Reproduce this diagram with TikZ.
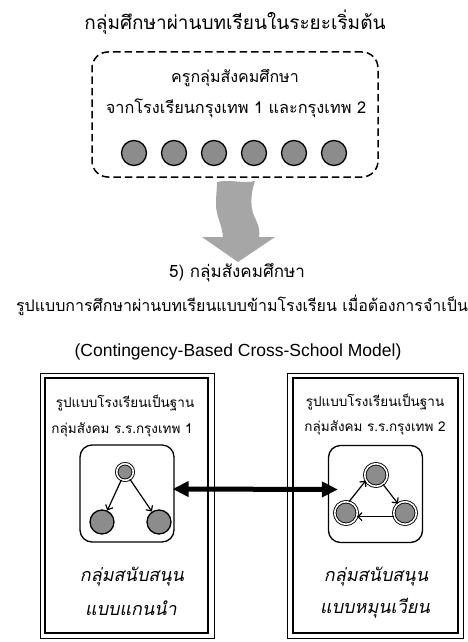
\documentclass[tikz,border=0pt]{standalone}
\usepackage{fontspec}
\setmainfont{Liberation Sans}
\newfontfamily\thai[Script=Thai]{Loma}
\newfontfamily\thaiit[Script=Thai,FakeSlant=0.2]{Loma}
\usetikzlibrary{arrows.meta}
\definecolor{nodegray}{HTML}{8C8C8C}
\definecolor{arrowgray}{HTML}{A6A6A6}
\begin{document}
\begin{tikzpicture}[x=1pt,y=-1pt,
  txt/.style={inner sep=0pt, font=\thai\fontsize{#1}{#1}\selectfont},
  ittxt/.style={inner sep=0pt, font=\thaiit\fontsize{#1}{#1}\selectfont},
  pnode/.style={circle, draw=black, line width=1.3pt, fill=nodegray, minimum size=#1, inner sep=0pt},
  dnode/.style={circle, draw=black, line width=0.9pt, double=white, double distance=1.6pt, fill=nodegray, minimum size=#1, inner sep=0pt},
  thinarrow/.style={line width=1.2pt, -{Straight Barb[length=4pt,width=8pt]}},
  innerbox/.style={draw=black, line width=1.3pt, rounded corners=12pt, minimum width=94pt, minimum height=97pt, inner sep=0pt},
  ]
\useasboundingbox (0,0) rectangle (468,642);

% title
\node[txt=19] (title) at (235,22) {กลุ่มศึกษาผ่านบทเรียนในระยะเริ่มต้น};

% dashed group
\node[draw=black, line width=1.5pt, dash pattern=on 7.5pt off 4pt, rounded corners=16pt,
      minimum width=286pt, minimum height=125pt, inner sep=0pt] (group) at (235,114.5) {};
\node[txt=16] (g1) at (235,78) {ครูกลุ่มสังคมศึกษา};
\node[txt=16.3] (g2) at (236,108) {จากโรงเรียนกรุงเทพ 1 และกรุงเทพ 2};
\foreach \i in {0,...,5}{
  \node[pnode=25pt] (c\i) at (134+40*\i,153) {};
}

% big wavy arrow
\fill[arrowgray] (217,182) .. controls (230,179) and (243,184) .. (255,181)
  .. controls (250,195) and (250,210) .. (256,220)
  .. controls (259,226) and (260,232) .. (259,237)
  -- (275,237) -- (238,262) -- (202,237) -- (223,237)
  .. controls (222,225) and (216,215) .. (216,205)
  .. controls (216,195) and (217,188) .. (217,182) -- cycle;

% model text
\node[txt=17] (m1) at (237,273) {5) กลุ่มสังคมศึกษา};
\node[txt=16] (m2) at (242,305) {รูปแบบการศึกษาผ่านบทเรียนแบบข้ามโรงเรียน เมื่อต้องการจำเป็น};
\node[inner sep=0pt, font=\fontsize{17.5}{17.5}\selectfont] (m3) at (238,352) {(Contingency-Based Cross-School Model)};

% panels
\draw[line width=1pt] (40,373) rectangle (214,638);
\draw[line width=2.2pt] (45,378) rectangle (208,633);
\draw[line width=1pt] (287,373) rectangle (463,638);
\draw[line width=2.2pt] (293,378) rectangle (458,633);

\node[txt=13.5] (p1a) at (125,403) {รูปแบบโรงเรียนเป็นฐาน};
\node[txt=13.5] (p1b) at (122,430) {กลุ่มสังคม ร.ร.กรุงเทพ 1};
\node[txt=13.5] (p2a) at (375,402) {รูปแบบโรงเรียนเป็นฐาน};
\node[txt=13.5] (p2b) at (375,428) {กลุ่มสังคม ร.ร.กรุงเทพ 2};

\node[innerbox] (box1) at (127,493.5) {};
\node[innerbox] (box2) at (375.5,494) {};

% left cluster
\node[dnode=16.6pt] (t1) at (125,472) {};
\node[pnode=24pt] (bl1) at (102,522) {};
\node[pnode=24pt] (br1) at (159,522) {};
\draw[thinarrow] (t1) -- (bl1);
\draw[thinarrow] (t1) -- (br1);

% right cluster
\node[dnode=22.6pt] (t2) at (376,475) {};
\node[dnode=22.6pt] (bl2) at (346,513) {};
\node[dnode=22.6pt] (br2) at (405,513) {};
\draw[thinarrow] (bl2.75) -- (t2.209);
\draw[thinarrow] (t2.307) -- (br2.127);
\draw[thinarrow] (br2.198) -- (bl2.342);

\node[ittxt=18] (s1a) at (132,577) {กลุ่มสนับสนุน};
\node[ittxt=18] (s1b) at (131,608) {แบบแกนนำ};
\node[ittxt=18] (s2a) at (376,577) {กลุ่มสนับสนุน};
\node[ittxt=18] (s2b) at (375,608) {แบบหมุนเวียน};

% double arrow between clusters
\draw[line width=5pt, {Triangle[length=16pt,width=15pt]}-{Triangle[length=16pt,width=15pt]}]
  ([yshift=4.5pt,xshift=-2pt]box1.east) -- ([yshift=4.5pt,xshift=10pt]box2.west);
\end{tikzpicture}
\end{document}
